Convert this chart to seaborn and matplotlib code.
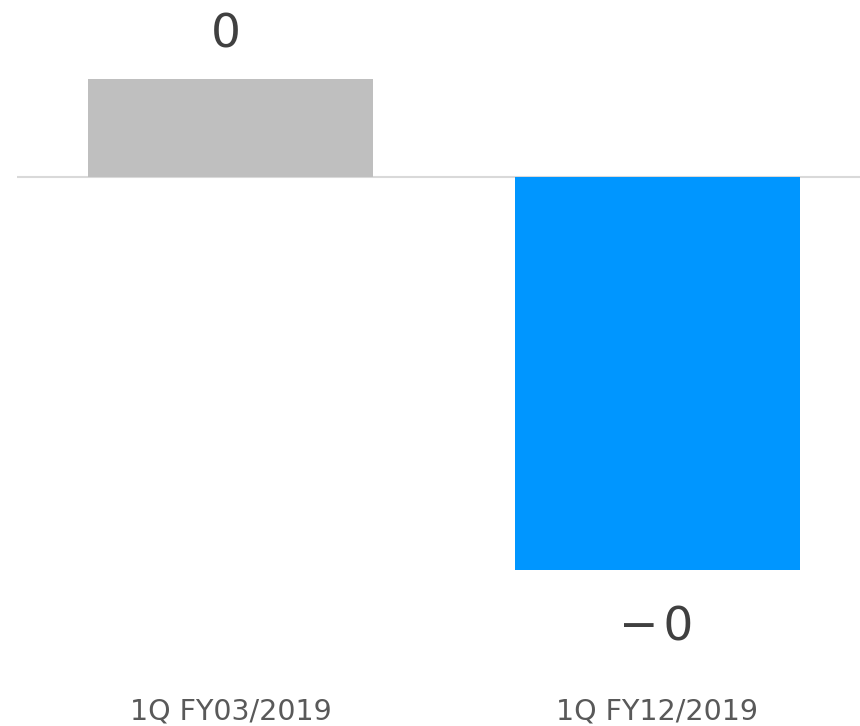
import numpy as np
import pandas as pd
import matplotlib
matplotlib.use("Agg")
import matplotlib.pyplot as plt
import seaborn as sns

periods = ["1Q FY03/2019", "1Q FY12/2019"]
values = [0.1, -0.4]
bar_colors = ["#BFBFBF", "#0096FF"]

df = pd.DataFrame({"period": periods, "value": values})

sns.set_style("white")
plt.rcParams["font.family"] = ["DejaVu Sans"]

fig = plt.figure(figsize=(8.6, 7.26), dpi=100)
ax = fig.add_axes([17 / 860, 46 / 726, 854 / 860, 680 / 726])

sns.barplot(data=df, x="period", y="value", hue="period", palette=bar_colors,
            width=0.667, saturation=1, legend=False, linewidth=0, ax=ax)

ax.axhline(0, color="#D9D9D9", lw=1.5, zorder=0)
ax.set_xlim(-0.5, 1.5)
ax.set_ylim(-0.512, 0.18015)

for p, v in zip(ax.patches, values):
    x = p.get_x() + p.get_width() / 2
    txt = f"{abs(v):.0f}" if v >= 0 else "\u2212\u200a" + f"{abs(v):.0f}"
    off = 31.5 if v >= 0 else -42
    dx = -3.5 if v >= 0 else -0.7
    ax.annotate(txt, (x, v), xytext=(dx, off), textcoords="offset points",
                ha="center", va="center", fontsize=34, color="#404040")

ax.set_xlabel("")
ax.set_ylabel("")
ax.set_yticks([])
ax.tick_params(axis="x", length=0, pad=12.5, labelsize=20.5, labelcolor="#595959")
sns.despine(ax=ax, left=True, bottom=True)

fig.savefig("out.png", dpi=100)
